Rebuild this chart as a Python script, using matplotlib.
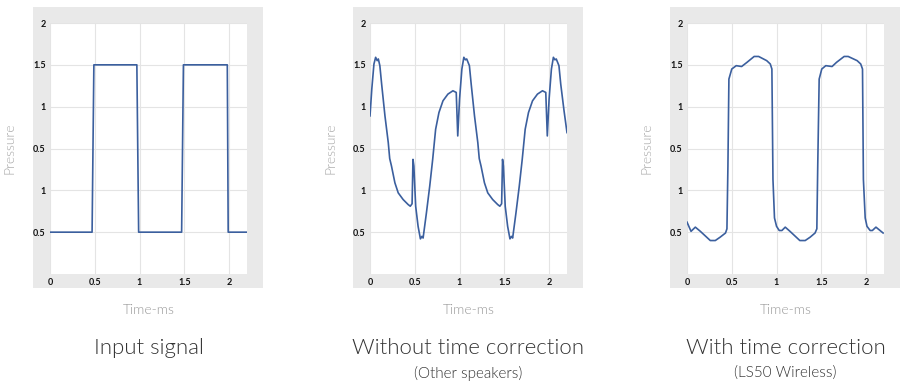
import matplotlib
matplotlib.use('Agg')
import matplotlib.pyplot as plt
from matplotlib.patches import Rectangle

plt.rcParams['font.family'] = ['Lato', 'DejaVu Sans']

# y values are in axis position units (bottom = 0, one gridline = 0.5)
ytick_pos = [0.5, 1.0, 1.5, 2.0, 2.5, 3.0]
ytick_labels = ['0.5', '1', '0.5', '1', '1.5', '2']
xtick_pos = [0, 0.5, 1, 1.5, 2]
xtick_labels = ['0', '0.5', '1', '1.5', '2']

# Input signal (square wave)
input_x = [0, 0.47, 0.49, 0.97, 0.99, 1.47, 1.49, 1.98, 1.99, 2.2]
input_y = [0.5, 0.5, 2.5, 2.5, 0.5, 0.5, 2.5, 2.5, 0.5, 0.5]

# Without time correction
other_x = [0, 0.02, 0.044, 0.063, 0.08, 0.093, 0.11, 0.13, 0.167, 0.204, 0.22,
           0.24, 0.278, 0.315, 0.37, 0.426, 0.45, 0.47, 0.48, 0.49, 0.51, 0.537,
           0.563, 0.58, 0.593, 0.63, 0.667, 0.70, 0.733, 0.77, 0.815, 0.87,
           0.926, 0.963, 0.98, 1.0, 1.026, 1.048, 1.065, 1.08, 1.11, 1.13,
           1.167, 1.204, 1.22, 1.24, 1.278, 1.315, 1.37, 1.426, 1.45, 1.47,
           1.48, 1.49, 1.51, 1.537, 1.563, 1.58, 1.593, 1.63, 1.667, 1.70,
           1.733, 1.77, 1.815, 1.87, 1.926, 1.963, 1.98, 2.0, 2.026, 2.048,
           2.065, 2.08, 2.11, 2.13, 2.167, 2.2]
other_y = [1.89, 2.21, 2.51, 2.59, 2.55, 2.57, 2.49, 2.27, 1.89, 1.57, 1.38,
           1.29, 1.09, 0.97, 0.89, 0.83, 0.81, 0.84, 1.37, 1.29, 0.81, 0.57,
           0.42, 0.45, 0.43, 0.73, 1.05, 1.37, 1.73, 1.93, 2.07, 2.15,
           2.19, 2.17, 1.65, 2.09, 2.45, 2.59, 2.56, 2.57, 2.49, 2.27,
           1.89, 1.57, 1.38, 1.29, 1.09, 0.97, 0.89, 0.83, 0.81, 0.84,
           1.37, 1.29, 0.81, 0.57, 0.42, 0.45, 0.43, 0.73, 1.05, 1.37,
           1.73, 1.93, 2.07, 2.15, 2.19, 2.17, 1.65, 2.09, 2.45, 2.59,
           2.56, 2.57, 2.49, 2.27, 1.95, 1.69]

# With time correction
ls50_x = [0, 0.045, 0.093, 0.149, 0.26, 0.316, 0.37, 0.43, 0.446, 0.457,
          0.468, 0.5, 0.55, 0.61, 0.67, 0.75, 0.80, 0.89, 0.93, 0.948, 0.96,
          0.977, 1.0, 1.03, 1.06, 1.097, 1.15, 1.26, 1.32, 1.375, 1.43, 1.45,
          1.46, 1.476, 1.505, 1.55, 1.62, 1.67, 1.755, 1.80, 1.90, 1.94,
          1.96, 1.97, 1.99, 2.01, 2.045, 2.07, 2.11, 2.19]
ls50_y = [0.62, 0.51, 0.56, 0.51, 0.40, 0.40, 0.44, 0.49, 0.54, 1.29,
          2.33, 2.45, 2.49, 2.48, 2.53, 2.60, 2.60, 2.55, 2.51, 2.45, 1.13,
          0.67, 0.57, 0.52, 0.52, 0.56, 0.51, 0.40, 0.40, 0.44, 0.49, 0.54,
          1.29, 2.33, 2.45, 2.49, 2.48, 2.53, 2.60, 2.60, 2.55, 2.51,
          2.45, 1.13, 0.67, 0.57, 0.52, 0.52, 0.56, 0.49]

series = [(input_x, input_y), (other_x, other_y), (ls50_x, ls50_y)]
titles = ['Input signal', 'Without time correction', 'With time correction']
subtitles = ['', '(Other speakers)', '(LS50 Wireless)']

W, H = 907, 388
fig = plt.figure(figsize=(W / 100, H / 100), dpi=100)

lefts = [50, 370, 687]
pw = 197
top, bottom = 23, 274
line_col = '#3b5f9e'

for i in range(3):
    l = lefts[i]
    # grey frame behind the plot
    fig.patches.append(Rectangle(((l - 17) / W, 1 - 288 / H), (pw + 33) / W, (288 - 7) / H,
                                 transform=fig.transFigure, facecolor='#e9e9e9',
                                 edgecolor='none', zorder=-5))
    ax = fig.add_axes([l / W, 1 - bottom / H, pw / W, (bottom - top) / H])
    ax.set_zorder(2)
    ax.set_facecolor('white')
    ax.plot(series[i][0], series[i][1], color=line_col, lw=1.2, zorder=3)
    ax.set_xlim(0, 2.2)
    ax.set_ylim(0, 3)
    ax.set_xticks(xtick_pos)
    ax.set_xticklabels(xtick_labels)
    ax.set_yticks(ytick_pos)
    ax.set_yticklabels(ytick_labels)
    ax.tick_params(length=0, labelsize=6.5, pad=3, colors='#111111')
    for lab in ax.get_xticklabels() + ax.get_yticklabels():
        lab.set_fontweight('bold')
    ax.grid(True, color='#e4e4e4', lw=0.8)
    ax.set_axisbelow(True)
    for s in ax.spines.values():
        s.set_visible(False)

    cx = (l + pw / 2) / W
    fig.text((l - 40) / W, 1 - 148 / H, 'Pressure', rotation=90, ha='center', va='center',
             fontsize=10, fontweight=300, color='#a8a8a8')
    fig.text(cx, 1 - 310 / H, 'Time-ms', ha='center', va='center', fontsize=10,
             fontweight=300, color='#989898')
    fig.text(cx, 1 - 348 / H, titles[i], ha='center', va='center', fontsize=16,
             fontweight=300, color='#333333')
    if subtitles[i]:
        fig.text(cx, 1 - 373 / H, subtitles[i], ha='center', va='center', fontsize=11,
                 fontweight=300, color='#333333')

fig.savefig('out.png', dpi=100)
